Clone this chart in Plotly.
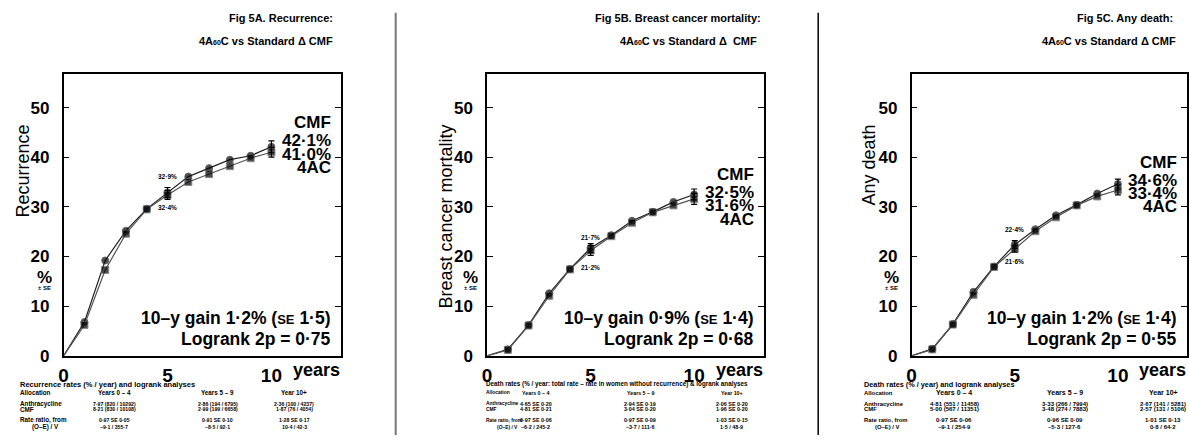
import plotly.graph_objects as go

W, H = 1189, 445

# ---------------- data ----------------
years = [0, 1, 2, 3, 4, 5, 6, 7, 8, 9, 10]

recur_cmf = [0, 6.8, 19.2, 25.2, 29.6, 32.9, 36.1, 37.8, 39.5, 40.3, 42.1]
recur_4ac = [0, 6.2, 17.3, 24.6, 29.5, 32.4, 35.0, 36.6, 38.2, 39.8, 41.0]
bcm_cmf = [0, 1.3, 6.2, 12.6, 17.5, 21.7, 24.3, 27.2, 29.0, 31.0, 32.5]
bcm_4ac = [0, 1.2, 6.1, 12.1, 17.4, 21.2, 24.1, 26.8, 28.9, 30.3, 31.6]
death_cmf = [0, 1.4, 6.4, 12.9, 18.0, 22.4, 25.5, 28.3, 30.4, 32.7, 34.6]
death_4ac = [0, 1.3, 6.3, 12.3, 17.9, 21.6, 25.1, 27.9, 30.3, 32.1, 33.4]

se_years = [5, 10]
recur_se_cmf = [1.0, 1.2]
recur_se_4ac = [0.9, 1.0]
bcm_se_cmf = [0.9, 1.1]
bcm_se_4ac = [1.0, 1.1]
death_se_cmf = [0.8, 1.0]
death_se_4ac = [0.7, 1.0]

y_ticks = [0, 10, 20, 30, 40, 50]
x_ticks = [0, 5, 10]

titles = [
    ("Fig 5A. Recurrence:", "4A<span style='font-size:7px'>60</span>C vs Standard \u0394 CMF"),
    ("Fig 5B. Breast cancer mortality:", "4A<span style='font-size:7px'>60</span>C vs Standard \u0394  CMF"),
    ("Fig 5C. Any death:", "4A<span style='font-size:7px'>60</span>C vs Standard \u0394 CMF"),
]
y_titles = ["Recurrence", "Breast cancer mortality", "Any death"]
gain_text = [
    "10\u2013y gain 1\u00b72% (<span style='font-size:13px'>SE</span> 1\u00b75)",
    "10\u2013y gain 0\u00b79% (<span style='font-size:13px'>SE</span> 1\u00b74)",
    "10\u2013y gain 1\u00b72% (<span style='font-size:13px'>SE</span> 1\u00b74)",
]
logrank_text = ["Logrank 2p = 0\u00b775", "Logrank 2p = 0\u00b768", "Logrank 2p = 0\u00b755"]

table_titles = [
    "Recurrence rates (% / year) and logrank analyses",
    "Death rates (% / year: total rate \u2013 rate in women without recurrence) & logrank analyses",
    "Death rates (% / year) and logrank analyses",
]
table_headers = ["Years 0 \u2013 4", "Years 5 \u2013 9", "Year 10+"]
table_anthra = [
    ["7\u00b797 (820 / 10292)", "2\u00b786 (194 / 6795)", "2\u00b736 (100 / 4237)"],
    ["4\u00b765 SE 0\u00b720", "2\u00b794 SE 0\u00b719", "2\u00b706 SE 0\u00b720"],
    ["4\u00b781 (551 / 11458)", "3\u00b733 (266 / 7994)", "2\u00b767 (141 / 5281)"],
]
table_cmf = [
    ["8\u00b721 (830 / 10108)", "2\u00b799 (199 / 6658)", "1\u00b787 (76 / 4054)"],
    ["4\u00b781 SE 0\u00b721", "3\u00b704 SE 0\u00b720", "1\u00b796 SE 0\u00b720"],
    ["5\u00b700 (567 / 11351)", "3\u00b748 (274 / 7883)", "2\u00b757 (131 / 5106)"],
]
table_ratio = [
    ["0\u00b797 SE 0\u00b705", "0\u00b791 SE 0\u00b710", "1\u00b728 SE 0\u00b717"],
    ["0\u00b797 SE 0\u00b706", "0\u00b797 SE 0\u00b709", "1\u00b703 SE 0\u00b715"],
    ["0\u00b797 SE 0\u00b706", "0\u00b796 SE 0\u00b709", "1\u00b701 SE 0\u00b713"],
]
table_oe = [
    ["\u20139\u00b71 / 355\u00b77", "\u20138\u00b75 / 92\u00b71", "10\u00b74 / 42\u00b73"],
    ["\u20136\u00b72 / 245\u00b72", "\u20133\u00b77 / 111\u00b76", "1\u00b75 / 48\u00b79"],
    ["\u20139\u00b71 / 254\u00b79", "\u20135\u00b73 / 127\u00b76", "0\u00b78 / 64\u00b72"],
]

series = [
    (recur_cmf, recur_4ac, recur_se_cmf, recur_se_4ac),
    (bcm_cmf, bcm_4ac, bcm_se_cmf, bcm_se_4ac),
    (death_cmf, death_4ac, death_se_cmf, death_se_4ac),
]

# ---------------- layout geometry (pixels) ----------------
FONT = "Liberation Sans, Arial, Helvetica, sans-serif"
panel_px = [(59, 338), (485, 763), (912, 1189)]
YTOP, YBOT = 76, 364
XMAX, YMAX = 13.35, 56.7
title_right = [(332, 332), (762, 758), (1177, 1180)]
ytitle_x = [18, 444, 869]
pct_x = [40, 468, 892]
label_y = [(47.0, 43.3, 40.5, 37.9), (36.5, 32.8, 30.2, 27.5), (39.0, 35.4, 32.7, 30.0)]
small_lbl_y = [(36.1, 29.8), (23.9, 17.7), (25.5, 19.0)]
table_left = [13, 482, 862]
table_sub = [41, 505, 888]
table_cols = [(110, 214, 291), (534, 639, 731), (955, 1066, 1165)]
# font sizes per panel: title, row labels, column headers, values
table_sizes = [(7.5, 6.3, 6.3, 5.2), (6.3, 4.9, 5.3, 5.4), (7.3, 5.9, 7.0, 6.0)]
row_y = dict(title=393, head=402, a=413, c=418.5, r=430, oe=437)


def px(x):
    return x / W


def py(y):
    return 1 - y / H


fig = go.Figure()
annotations = []
shapes = []
layout = {}

for i in range(3):
    xa = "x" if i == 0 else f"x{i+1}"
    ya = "y" if i == 0 else f"y{i+1}"
    xk = "xaxis" if i == 0 else f"xaxis{i+1}"
    yk = "yaxis" if i == 0 else f"yaxis{i+1}"
    cmf, ac, se_c, se_a = series[i]

    # main curves
    fig.add_trace(go.Scatter(
        x=years, y=cmf, mode="lines+markers", xaxis=xa, yaxis=ya,
        line=dict(color="#222", width=1.2),
        marker=dict(symbol="circle", size=[0] + [7] * (len(years) - 1), color="black"),
        showlegend=False, hoverinfo="skip"))
    fig.add_trace(go.Scatter(
        x=years, y=ac, mode="lines+markers", xaxis=xa, yaxis=ya,
        line=dict(color="#555", width=1.2),
        marker=dict(symbol="square", size=[0] + [7] * (len(years) - 1), color="black"),
        showlegend=False, hoverinfo="skip"))
    # error bars at 5 and 10 years
    for vals, se in ((cmf, se_c), (ac, se_a)):
        fig.add_trace(go.Scatter(
            x=se_years, y=[vals[years.index(s)] for s in se_years], mode="markers",
            xaxis=xa, yaxis=ya, marker=dict(size=1, color="black"),
            error_y=dict(type="data", array=se, color="black", thickness=1.2, width=3),
            showlegend=False, hoverinfo="skip"))

    x0, x1 = panel_px[i]
    layout[xk] = dict(
        domain=[px(x0), min(px(x1), 1.0)], range=[0, XMAX], anchor=ya,
        tickvals=x_ticks, ticktext=[str(t) for t in x_ticks], ticks="",
        showline=True, linecolor="black", linewidth=1.5, mirror=True,
        showgrid=False, zeroline=False, ticklabelstandoff=2,
        tickfont=dict(family=FONT, size=19, color="black", weight="bold"))
    layout[yk] = dict(
        domain=[py(YBOT), py(YTOP)], range=[0, YMAX], anchor=xa,
        tickvals=y_ticks, ticks="inside", ticklen=6, tickwidth=1.2, tickcolor="black",
        showline=True, linecolor="black", linewidth=1.5, mirror="ticks",
        showgrid=False, zeroline=False, ticklabelstandoff=9,
        tickfont=dict(family=FONT, size=17, color="black", weight="bold"))

    # "years"
    annotations.append(dict(x=10.95, y=py(378), xref=xa, yref="paper", text="years",
                            showarrow=False, xanchor="left", yanchor="middle",
                            font=dict(family=FONT, size=18, color="black", weight="bold")))
    # titles
    tr1, tr2 = title_right[i]
    annotations.append(dict(x=px(tr1), y=py(18), xref="paper", yref="paper", text=titles[i][0],
                            showarrow=False, xanchor="right", yanchor="middle",
                            font=dict(family=FONT, size=11, color="black", weight="bold")))
    annotations.append(dict(x=px(tr2), y=py(42), xref="paper", yref="paper", text=titles[i][1],
                            showarrow=False, xanchor="right", yanchor="middle",
                            font=dict(family=FONT, size=11, color="black", weight="bold")))
    # y title
    annotations.append(dict(x=px(ytitle_x[i]), y=py(125), xref="paper", yref="paper",
                            text=y_titles[i], textangle=-90, showarrow=False,
                            xanchor="center", yanchor="top",
                            font=dict(family=FONT, size=18, color="black")))
    annotations.append(dict(x=px(pct_x[i]), y=py(284), xref="paper", yref="paper", text="%",
                            showarrow=False, xanchor="center", yanchor="middle",
                            font=dict(family=FONT, size=17, color="black", weight="bold")))
    annotations.append(dict(x=px(pct_x[i]), y=py(295), xref="paper", yref="paper", text="\u00b1 SE",
                            showarrow=False, xanchor="center", yanchor="middle",
                            font=dict(family=FONT, size=6, color="black", weight="bold")))
    # right-hand labels
    ly = label_y[i]
    right_txt = ["CMF", f"{cmf[-1]:.1f}%".replace(".", "\u00b7"),
                 f"{ac[-1]:.1f}%".replace(".", "\u00b7"), "4AC"]
    for t, yy in zip(right_txt, ly):
        annotations.append(dict(x=12.97, y=yy, xref=xa, yref=ya, text=t, showarrow=False,
                                xanchor="right", yanchor="middle",
                                font=dict(family=FONT, size=17, color="black", weight="bold")))
    # small year-5 labels
    s1, s2 = small_lbl_y[i]
    i5 = years.index(5)
    for t, yy in ((f"{cmf[i5]:.1f}%".replace(".", "\u00b7"), s1),
                  (f"{ac[i5]:.1f}%".replace(".", "\u00b7"), s2)):
        annotations.append(dict(x=5, y=yy, xref=xa, yref=ya, text=t, showarrow=False,
                                xanchor="center", yanchor="middle",
                                font=dict(family=FONT, size=6.5, color="black", weight="bold")))
    # gain / logrank
    annotations.append(dict(x=12.97, y=7.6, xref=xa, yref=ya, text=gain_text[i], showarrow=False,
                            xanchor="right", yanchor="middle",
                            font=dict(family=FONT, size=17.5, color="black", weight="bold")))
    annotations.append(dict(x=12.97, y=3.4, xref=xa, yref=ya, text=logrank_text[i], showarrow=False,
                            xanchor="right", yanchor="middle",
                            font=dict(family=FONT, size=17.5, color="black", weight="bold")))
    # table
    s_title, s_lab, s_head, s_val = table_sizes[i]
    L = table_left[i]

    def tx(x, y, t, size, anchor="left"):
        annotations.append(dict(x=px(x), y=py(y), xref="paper", yref="paper", text=t,
                                showarrow=False, xanchor=anchor, yanchor="middle",
                                font=dict(family=FONT, size=size, color="black", weight="bold")))

    tx(L, row_y["title"], table_titles[i], s_title)
    tx(L, row_y["head"], "Allocation", s_lab)
    tx(L, row_y["a"], "Anthracycline", s_lab)
    tx(L, row_y["c"], "CMF", s_lab)
    tx(L, row_y["r"], "Rate ratio, from", s_lab)
    tx(table_sub[i], row_y["oe"], "(O\u2013E) / V", s_lab, "center")
    for j, cx in enumerate(table_cols[i]):
        tx(cx, row_y["head"], table_headers[j], s_head, "center")
        tx(cx, row_y["a"], table_anthra[i][j], s_val, "center")
        tx(cx, row_y["c"], table_cmf[i][j], s_val, "center")
        tx(cx, row_y["r"], table_ratio[i][j], s_val, "center")
        tx(cx, row_y["oe"], table_oe[i][j], s_val, "center")

# panel separators
shapes.append(dict(type="line", xref="paper", yref="paper", x0=px(393), x1=px(393),
                   y0=py(13), y1=0, line=dict(color="#777", width=2)))
shapes.append(dict(type="line", xref="paper", yref="paper", x0=px(818), x1=px(818),
                   y0=py(13), y1=0, line=dict(color="black", width=1.5)))

fig.update_layout(
    width=W, height=H, margin=dict(l=0, r=0, t=0, b=0),
    paper_bgcolor="white", plot_bgcolor="white",
    annotations=annotations, shapes=shapes, showlegend=False,
    font=dict(family=FONT, color="black"),
    **layout)

fig.write_html("out.html")
